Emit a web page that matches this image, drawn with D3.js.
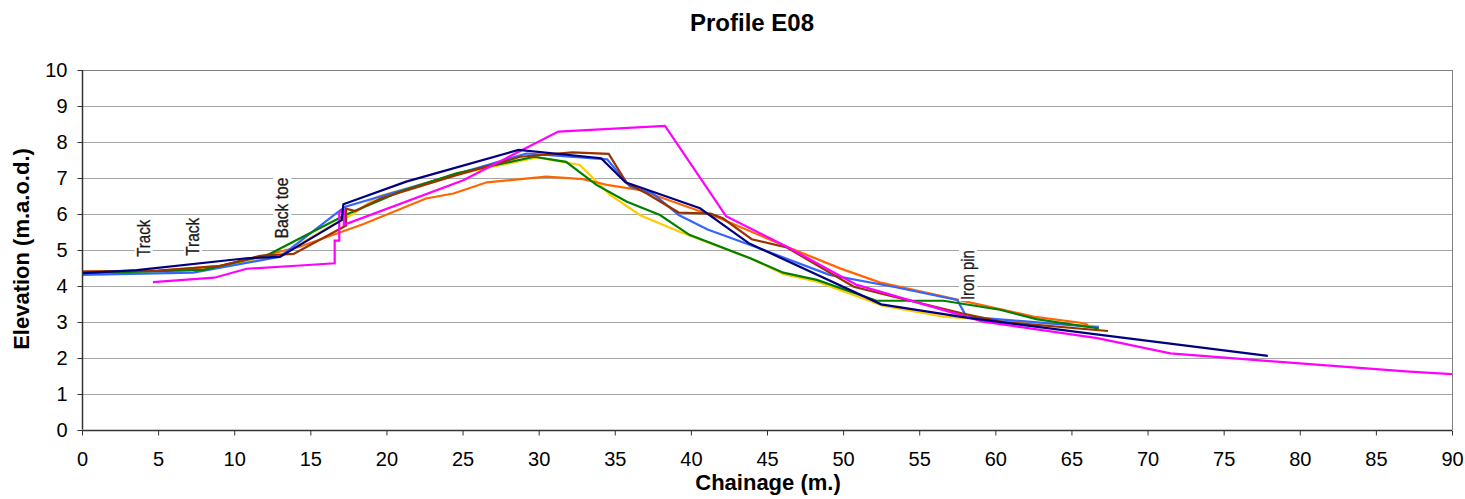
<!DOCTYPE html>
<html>
<head>
<meta charset="utf-8">
<script src="https://cdn.jsdelivr.net/npm/d3@7"></script>
<style>
  html, body { margin: 0; padding: 0; background: #fff; }
  svg { display: block; font-family: "Liberation Sans", Arial, sans-serif; }
</style>
</head>
<body>
<svg id="chart" width="1465" height="499"></svg>
<script>
// ---- Data ----
const titleText = "Profile E08";
const xTitle = "Chainage (m.)";
const yTitle = "Elevation (m.a.o.d.)";
const xTicks = [0,5,10,15,20,25,30,35,40,45,50,55,60,65,70,75,80,85,90];
const yTicks = [0,1,2,3,4,5,6,7,8,9,10];

const seriesYellow = [[0,4.38],[7.5,4.45],[13,4.85],[16.5,5.7],[17.8,6.0],[19.4,6.48],[24.6,7.1],[29.9,7.57],[32.7,7.36],[34.7,6.53],[36.7,5.96],[39.3,5.5],[43.9,4.77],[46.1,4.33],[48.3,4.12],[52.6,3.45],[56.6,3.15],[59.2,3.07],[62,3.0],[66.8,2.88]];
const seriesOrange = [[0,4.40],[5,4.42],[9.07,4.56],[11,4.75],[14.3,5.09],[18.5,5.72],[22.6,6.43],[24.4,6.57],[26.6,6.88],[30.5,7.04],[32.9,6.97],[34.6,6.8],[36.7,6.66],[41.9,5.88],[46.3,5.09],[49.8,4.49],[52.4,4.1],[57.5,3.62],[62.5,3.15],[65.6,2.98],[66.1,2.92]];
const seriesBlue = [[0,4.31],[7.3,4.37],[13,4.81],[16.7,6.02],[17.3,6.2],[29.2,7.68],[34.5,7.52],[36,6.76],[37.5,6.57],[39.2,5.97],[41.1,5.57],[43.9,5.14],[49.1,4.31],[53.3,3.98],[57.5,3.61],[58.1,3.15],[66.8,2.85]];
const seriesGreen = [[0,4.36],[8,4.45],[12.2,4.86],[14.1,5.28],[17.3,5.97],[20.9,6.62],[24.6,7.13],[29.7,7.59],[31.8,7.45],[33.8,6.81],[35.8,6.34],[37.97,5.97],[39.9,5.42],[43.9,4.77],[46.07,4.37],[48.27,4.17],[52.2,3.59],[56.6,3.59],[60.3,3.34],[62.7,3.08],[66.8,2.82]];
const seriesBrown = [[0,4.40],[5,4.43],[9,4.55],[11.7,4.84],[13.9,4.89],[17.35,5.68],[17.35,6.15],[17.95,6.08],[19.6,6.43],[24.6,7.08],[28.8,7.59],[32.2,7.71],[34.6,7.67],[35.8,6.85],[37.1,6.57],[39.2,6.04],[41.3,6.01],[42.1,5.88],[44.0,5.3],[46.3,5.07],[50.7,3.98],[52.4,3.8],[57.8,3.24],[60.5,3.0],[67.4,2.75]];
const seriesMagenta = [[4.66,4.11],[8.69,4.23],[10.82,4.48],[14.32,4.57],[16.6,4.63],[16.6,5.26],[16.9,5.26],[16.9,6.06],[17.2,6.1],[17.2,5.7],[25.05,6.94],[31.29,8.29],[38.3,8.45],[42.31,5.94],[46.3,5.09],[50.9,4.03],[59.2,3.01],[66.7,2.55],[71.5,2.13],[77.8,1.92],[87.2,1.62],[90,1.55]];
const seriesNavy = [[0,4.36],[3.6,4.44],[10.8,4.77],[13,4.81],[17.06,5.83],[17.17,6.27],[21.3,6.9],[28.67,7.78],[34.1,7.55],[35.7,6.88],[37.5,6.62],[40.6,6.16],[43.8,5.19],[52.5,3.49],[58.1,3.12],[66.9,2.64],[77.9,2.06]];

const seriesList = [
  {data: seriesYellow,  color: "#FFCC00"},
  {data: seriesOrange,  color: "#FF6600"},
  {data: seriesBlue,    color: "#3366FF"},
  {data: seriesGreen,   color: "#008000"},
  {data: seriesBrown,   color: "#993300"},
  {data: seriesMagenta, color: "#FF00FF"},
  {data: seriesNavy,    color: "#000080"}
];

const annoText = ["Track", "Track", "Back toe", "Iron pin"];
const annoX = [4.45, 7.7, 13.55, 58.6];
const annoY = [4.81, 4.84, 5.32, 3.61];
const annoLen = [37, 38, 61, 50];

// ---- Layout ----
const svg = d3.select("#chart");
const pLeft = 82, pRight = 1452, pTop = 70, pBottom = 430;
const x = d3.scaleLinear().domain([0, 90]).range([pLeft, pRight]);
const y = d3.scaleLinear().domain([0, 10]).range([pBottom, pTop]);

// gridlines
svg.append("g").selectAll("line").data(yTicks.filter(d => d > 0)).join("line")
  .attr("x1", pLeft).attr("x2", pRight)
  .attr("y1", d => Math.round(y(d)) + 0.5).attr("y2", d => Math.round(y(d)) + 0.5)
  .attr("stroke", "#a6a6a6").attr("stroke-width", 1);

// plot border
svg.append("line").attr("x1", pRight + 0.5).attr("x2", pRight + 0.5)
  .attr("y1", pTop).attr("y2", pBottom).attr("stroke", "#808080");
svg.append("line").attr("x1", pLeft).attr("x2", pRight)
  .attr("y1", pTop + 0.5).attr("y2", pTop + 0.5).attr("stroke", "#808080");

// series
const line = d3.line().x(d => x(d[0])).y(d => y(d[1]));
svg.append("g").selectAll("path").data(seriesList).join("path")
  .attr("d", d => line(d.data))
  .attr("fill", "none")
  .attr("stroke", d => d.color)
  .attr("stroke-width", 2.2)
  .attr("stroke-linejoin", "miter");

// axes
const yAxis = d3.axisLeft(y).tickValues(yTicks).tickSize(5).tickPadding(10).tickFormat(d3.format("d"));
const gy = svg.append("g").attr("transform", `translate(${pLeft + 0.5},0)`).call(yAxis);
const xAxis = d3.axisBottom(x).tickValues(xTicks).tickSize(5).tickPadding(16).tickFormat(d3.format("d"));
const gx = svg.append("g").attr("transform", `translate(0,${pBottom + 0.5})`).call(xAxis);
[gx, gy].forEach(g => {
  g.select(".domain").attr("stroke", "#333").attr("stroke-width", 1.5);
  g.selectAll(".tick line").attr("stroke", "#333");
  g.selectAll(".tick text").attr("font-size", 20).attr("fill", "#000")
    .attr("font-family", "'Liberation Sans', Arial, sans-serif");
});
gy.select(".domain").attr("d", `M0,${pBottom - 0.5}V${pTop}`);
gx.select(".domain").attr("d", `M${pLeft},0H${pRight}`);

// annotations
annoText.forEach((t, i) => {
  const g = svg.append("g").attr("transform", `translate(${x(annoX[i])},${y(annoY[i])}) rotate(-90)`);
  const txt = g.append("text").text(t)
    .attr("x", 0).attr("y", 0)
    .attr("font-size", 18)
    .attr("textLength", annoLen[i])
    .attr("lengthAdjust", "spacingAndGlyphs")
    .attr("fill", "#1a1a1a")
    .attr("stroke", "#1a1a1a").attr("stroke-width", 0.3);
  const bb = txt.node().getBBox();
  g.insert("rect", "text").attr("x", bb.x - 1).attr("y", bb.y + 1)
    .attr("width", bb.width + 2).attr("height", bb.height - 2).attr("fill", "#fff");
});

// titles
svg.append("text").attr("x", 752).attr("y", 31).attr("text-anchor", "middle")
  .attr("font-size", 24).attr("font-weight", "bold").text(titleText);
svg.append("text").attr("x", 768).attr("y", 490).attr("text-anchor", "middle")
  .attr("font-size", 22).attr("font-weight", "bold").text(xTitle);
svg.append("text").attr("transform", `translate(29,249) rotate(-90)`).attr("text-anchor", "middle")
  .attr("font-size", 22).attr("font-weight", "bold").text(yTitle);
</script>
</body>
</html>
